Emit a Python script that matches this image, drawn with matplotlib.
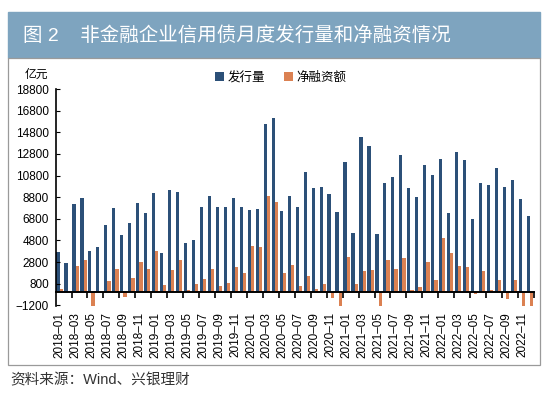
import matplotlib.pyplot as plt
import numpy as np
from matplotlib.patches import Rectangle

plt.rcParams['font.family'] = ['Liberation Sans', 'Noto Sans CJK SC', 'DejaVu Sans']

# monthly data, 2018-01 .. 2022-12 (100 million yuan)
months = [f"{y}–{m:02d}" for y in range(2018, 2023) for m in range(1, 13)]
issuance = [
    3700, 2700, 8150, 8700, 3850, 4200, 6200, 7800, 5300, 6400, 8250, 7350,
    9150, 3600, 9500, 9250, 4600, 4800, 7850, 8900, 7900, 7850, 8750, 7900,
    7600, 7700, 15550, 16100, 7500, 8900, 7850, 11100, 9650, 9700, 9050, 7450,
    12050, 5450, 14400, 13500, 5400, 10150, 10650, 12700, 9650, 8850, 11800, 10850,
    12350, 7300, 12950, 12200, 6750, 10100, 9950, 11500, 9750, 10400, 8650, 7050,
]
net_financing = [
    300, 0, 2450, 3000, -1300, 0, 1050, 2200, -450, 1350, 2800, 2200,
    3850, 700, 2100, 2950, 250, 800, 1250, 2200, 550, 850, 2300, 1800,
    4250, 4150, 8900, 8350, 1800, 2500, 550, 1550, 300, 750, -550, -1300,
    3250, 800, 1950, 2050, -1300, 2950, 2200, 3200, 200, 450, 2800, 1100,
    5000, 3600, 2450, 2350, -150, 1950, 250, 1150, -650, 1150, -1300, -1300,
]
yticks = list(range(-1200, 18801, 2000))

blue = '#2c5078'
orange = '#db8152'

W, H = 550, 395
fig = plt.figure(figsize=(W / 100, H / 100), dpi=100)

# title bar and frame
fig.patches.append(Rectangle((8 / W, 1 - 58 / H), 532 / W, 46 / H,
                             transform=fig.transFigure, color='#7ea4bf', zorder=0))
fig.patches.append(Rectangle((8 / W, 1 - 365 / H), 532 / W, 307 / H,
                             transform=fig.transFigure, facecolor='white',
                             edgecolor='#9a9a9a', lw=0.9, zorder=0))
fig.text(23 / W, 1 - 35 / H, "图 2    非金融企业信用债月度发行量和净融资情况",
         color='white', fontsize=14, va='center', ha='left')
fig.text(10 / W, 1 - 380 / H, "资料来源：Wind、兴银理财",
         color='#333333', fontsize=10.5, va='center', ha='left')
fig.text(48 / W, 1 - 75 / H, "亿元", fontsize=8.5, va='center', ha='right')

ax = fig.add_axes([56 / W, 1 - 306.4 / H, 478 / W, 217.4 / H])
ax.set_zorder(2)
ax.patch.set_alpha(0)
x = np.arange(len(months))
ax.bar(x - 0.2, issuance, width=0.4, color=blue, label='发行量')
ax.bar(x + 0.2, net_financing, width=0.4, color=orange, label='净融资额')

ax.set_xlim(-0.45, len(months) - 0.5)
ax.set_ylim(-1300, 18800)
ax.set_yticks(yticks)
ax.set_yticklabels([f"{v}".replace('-', '−') for v in yticks])
ax.tick_params(axis='y', direction='in', length=3, labelsize=8.5, pad=5)

ax.spines['top'].set_visible(False)
ax.spines['right'].set_visible(False)
ax.spines['left'].set_linewidth(1.2)
ax.spines['bottom'].set_position(('data', 0))
ax.spines['bottom'].set_linewidth(1.4)

ax.set_xticks(x[::2])
ax.set_xticklabels(months[::2], rotation=90, fontsize=8.5)
ax.set_xticks(np.arange(1.5, len(months), 2), minor=True)
ax.tick_params(axis='x', which='major', length=0, pad=14)
ax.tick_params(axis='x', which='minor', direction='out', length=4, width=1.2)

ax.legend(loc='center', bbox_to_anchor=(0.47, 1.05), ncol=2, frameon=False,
          fontsize=9, handlelength=0.7, handleheight=0.7, handletextpad=0.3,
          columnspacing=1.5)

fig.savefig('out.png', dpi=100)
